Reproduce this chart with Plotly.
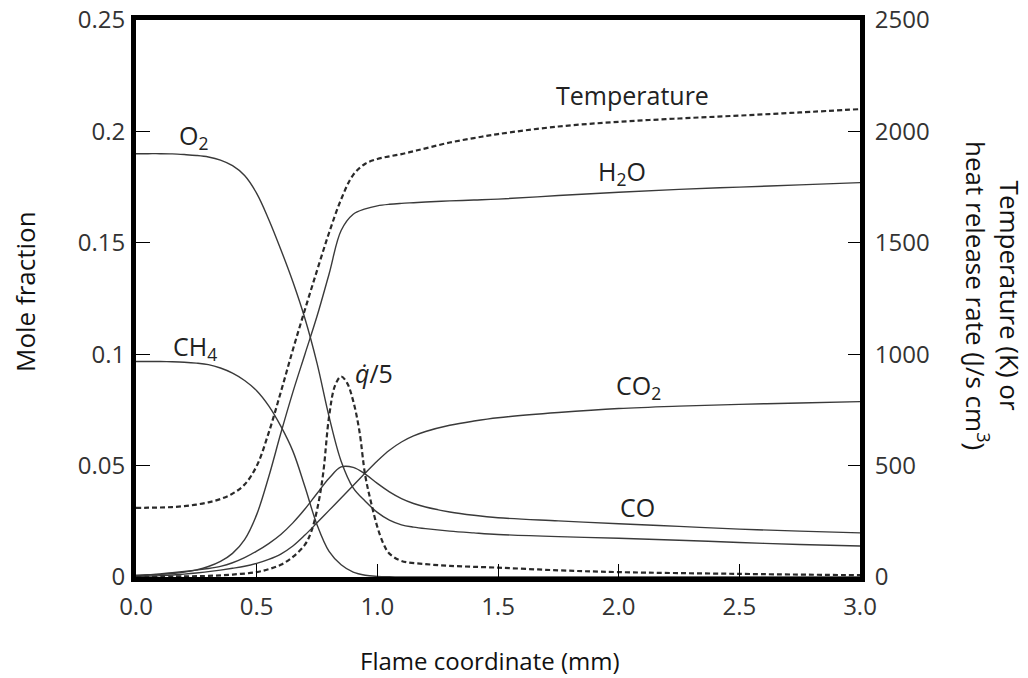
import plotly.graph_objects as go

# ---------------- data ----------------
x_mole = [0.0, 0.05, 0.1, 0.15, 0.2, 0.25, 0.3, 0.35, 0.4, 0.45, 0.5, 0.55, 0.6, 0.65, 0.7,
          0.75, 0.8, 0.85, 0.9, 0.95, 1.0, 1.05, 1.1, 1.15, 1.2, 1.3, 1.4, 1.5, 1.75, 2.0,
          2.25, 2.5, 2.75, 3.0]

O2 = [0.1900, 0.1900, 0.1900, 0.1899, 0.1896, 0.1892, 0.1885, 0.1871, 0.1846, 0.1802,
      0.1722, 0.1605, 0.1470, 0.1325, 0.1160, 0.0960, 0.0720, 0.0520, 0.0400, 0.0340,
      0.0290, 0.0255, 0.0234, 0.0224, 0.0217, 0.0206, 0.0198, 0.0191, 0.0181, 0.0174,
      0.0165, 0.0155, 0.0146, 0.0139]

CH4 = [0.0967, 0.0967, 0.0967, 0.0966, 0.0964, 0.0960, 0.0953, 0.0938, 0.0915, 0.0882,
       0.0836, 0.0768, 0.0677, 0.0565, 0.0405, 0.0235, 0.0115, 0.0055, 0.0022, 0.0008,
       0.0003, 0.0001, 0.0, 0.0, 0.0, 0.0, 0.0, 0.0, 0.0, 0.0,
       0.0, 0.0, 0.0, 0.0]

H2O = [0.0008, 0.0010, 0.0012, 0.0016, 0.0022, 0.0032, 0.0047, 0.0070, 0.0106, 0.0168,
       0.0280, 0.0450, 0.0645, 0.0830, 0.1000, 0.1170, 0.1360, 0.1555, 0.1628, 0.1652,
       0.1666, 0.1673, 0.1677, 0.1680, 0.1683, 0.1688, 0.1692, 0.1696, 0.1712, 0.1727,
       0.1740, 0.1750, 0.1760, 0.1770]

CO = [0.0005, 0.0009, 0.0014, 0.0019, 0.0025, 0.0031, 0.0038, 0.0048, 0.0064, 0.0087,
      0.0116, 0.0150, 0.0191, 0.0243, 0.0305, 0.0375, 0.0443, 0.0494, 0.0492, 0.0462,
      0.0420, 0.0382, 0.0352, 0.0330, 0.0314, 0.0292, 0.0277, 0.0266, 0.0252, 0.0239,
      0.0227, 0.0215, 0.0206, 0.0198]

CO2 = [0.0002, 0.0004, 0.0006, 0.0009, 0.0013, 0.0018, 0.0024, 0.0031, 0.0039, 0.0048,
       0.0061, 0.0079, 0.0103, 0.0139, 0.0188, 0.0243, 0.0299, 0.0355, 0.0411, 0.0467,
       0.0521, 0.0569, 0.0606, 0.0633, 0.0653, 0.0681, 0.0700, 0.0715, 0.0738, 0.0756,
       0.0767, 0.0775, 0.0781, 0.0787]

temperature = [310, 311, 312, 314, 318, 325, 335, 350, 374, 415,
               498, 648, 830, 1020, 1200, 1375, 1545, 1695, 1805, 1855,
               1876, 1888, 1898, 1911, 1924, 1950, 1970, 1988, 2022, 2043,
               2058, 2071, 2085, 2100]

x_q = [0.0, 0.2, 0.3, 0.4, 0.5, 0.55, 0.6, 0.65, 0.7, 0.725, 0.75, 0.775, 0.8, 0.825, 0.85,
       0.875, 0.9, 0.925, 0.95, 0.975, 1.0, 1.025, 1.05, 1.1, 1.2, 1.3, 1.5, 1.75, 2.0,
       2.5, 3.0]
q_over_5 = [0, 3, 5, 11, 22, 35, 55, 90, 145, 200, 300, 460, 720, 860, 900,
            870, 790, 660, 455, 330, 225, 150, 105, 72, 58, 50, 42, 30, 22,
            14, 8]

x_ticks = [0.0, 0.5, 1.0, 1.5, 2.0, 2.5, 3.0]
y_ticks = [0, 0.05, 0.1, 0.15, 0.2, 0.25]
y2_ticks = [0, 500, 1000, 1500, 2000, 2500]

# ---------------- layout geometry (page pixels; page has an 8px body margin) ----------------
OFF = 8
W, H = 1028 - OFF, 678 - OFF
L, R, T, B = 136 - OFF, 860 - OFF, 20 - OFF, 577 - OFF
FONT = "Open Sans"


def px(xpage):
    return (xpage - OFF - L) / (R - L)


def py(ypage):
    return (B - (ypage - OFF)) / (B - T)


solid = dict(color="#3a3a3a", width=1.4, shape="spline", smoothing=1.0)
dotted = dict(color="#2a2a2a", width=2.2, dash="5px,3px", shape="spline", smoothing=1.0)

fig = go.Figure()
for ys in [O2, CH4, H2O, CO, CO2]:
    fig.add_trace(go.Scatter(x=x_mole, y=ys, mode="lines", line=solid, yaxis="y",
                             hoverinfo="skip", showlegend=False))
for xs, ys in [(x_mole, temperature), (x_q, q_over_5)]:
    fig.add_trace(go.Scatter(x=xs, y=ys, mode="lines", line=dotted, yaxis="y2",
                             hoverinfo="skip", showlegend=False))

tickfont = dict(family=FONT, size=24, color="#333333")
common = dict(showline=True, linewidth=5, linecolor="black", ticks="inside",
              tickwidth=1.3, tickcolor="black", showgrid=False, zeroline=False,
              tickfont=tickfont, automargin=False, ticklabeloverflow="allow")
fig.update_layout(
    width=W, height=H,
    margin=dict(l=L, r=W - R, t=T, b=H - B, pad=0, autoexpand=False),
    paper_bgcolor="white", plot_bgcolor="white",
    showlegend=False,
    xaxis=dict(range=[0, 3], tickvals=x_ticks, tickformat=".1f", mirror=True,
               ticklen=13, ticklabelstandoff=4, **common),
    yaxis=dict(range=[0, 0.25], tickvals=y_ticks, ticklen=14, ticklabelstandoff=1,
               **common),
    yaxis2=dict(range=[0, 2500], tickvals=y2_ticks, tickformat="d",
                overlaying="y", side="right", ticklen=12, ticklabelstandoff=5,
                **common),
)

labfont = dict(family=FONT, size=25, color="#222222")
labels = [
    ("O<sub>2</sub>", 193, 137),
    ("CH<sub>4</sub>", 195, 347),
    ("Temperature", 632, 95),
    ("H<sub>2</sub>O", 622, 173),
    ("<i>q\u0307</i>/5", 374, 373),
    ("CO<sub>2</sub>", 638, 386),
    ("CO", 637, 507),
]
for text, xp_, yp_ in labels:
    fig.add_annotation(text=text, x=px(xp_), y=py(yp_), xref="paper", yref="paper",
                       showarrow=False, xanchor="center", yanchor="middle", font=labfont)

fig.add_annotation(text="Mole fraction", x=px(25), y=py(292), xref="paper", yref="paper",
                   showarrow=False, textangle=-90, xanchor="center", yanchor="middle",
                   font=dict(family=FONT, size=26, color="#111111"))
fig.add_annotation(text="Flame coordinate (mm)", x=px(490), y=py(660), xref="paper",
                   yref="paper", showarrow=False, xanchor="center", yanchor="middle",
                   font=dict(family=FONT, size=24, color="#111111"))
fig.add_annotation(text="Temperature (K) or<br>heat release rate (J/s cm<sup>3</sup>)",
                   x=px(993), y=py(295), xref="paper", yref="paper", showarrow=False,
                   textangle=90, xanchor="center", yanchor="middle",
                   font=dict(family=FONT, size=26, color="#111111"))

fig.write_html("out.html")
